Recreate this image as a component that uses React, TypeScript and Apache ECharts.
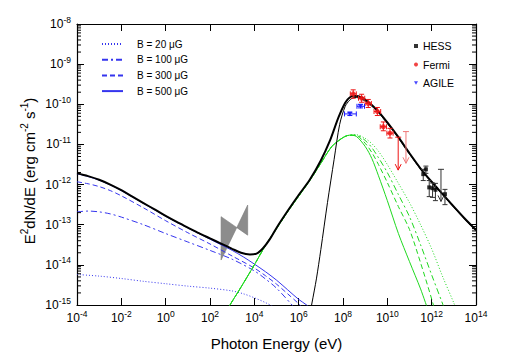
import React, { useEffect, useRef } from "react";
import * as echarts from "echarts";

type P = [number, number];

// ---- model curves as [log10(E / eV), log10(E^2 dN/dE)] ----
const syncB20: P[] = [[-4,-14.24],[-3,-14.28],[-2,-14.34],[-1,-14.41],[0,-14.47],[1,-14.53],[2,-14.58],[3,-14.65],[3.5,-14.72],[4,-14.82],[4.5,-14.94],[5,-15.08],[5.5,-15.25]];
const syncB100: P[] = [[-4,-12.68],[-3.5,-12.66],[-3,-12.68],[-2.5,-12.73],[-2,-12.81],[-1,-13.0],[0,-13.22],[1,-13.43],[2,-13.64],[3,-13.86],[4,-14.15],[4.5,-14.35],[5,-14.58],[5.7,-15.0],[6,-15.2]];
const syncB300: P[] = [[-4,-11.93],[-3.5,-11.98],[-3,-12.05],[-2.5,-12.15],[-2,-12.28],[-1,-12.58],[0,-12.9],[1,-13.2],[2,-13.48],[3,-13.78],[4,-14.08],[4.5,-14.27],[5,-14.48],[5.5,-14.72],[6.06,-15.0],[6.4,-15.2]];
const syncB500: P[] = [[-4,-11.73],[-3.5,-11.8],[-3,-11.89],[-2.5,-12.01],[-2,-12.15],[-1.5,-12.31],[-1,-12.47],[-0.5,-12.63],[0,-12.79],[0.5,-12.94],[1,-13.08],[1.5,-13.22],[2,-13.36],[2.5,-13.5],[3,-13.64],[3.5,-13.8],[4,-13.98],[4.5,-14.17],[5,-14.38],[5.5,-14.62],[6,-14.86],[6.36,-15.0],[6.8,-15.2]];

const icRise: P[] = [[2.6,-15.3],[2.9,-15.0],[3.35,-14.6],[4,-14.0],[4.5,-13.52],[5,-13.1],[5.5,-12.68],[6,-12.29],[6.5,-11.9],[7,-11.47],[7.5,-11.05],[8,-10.83],[8.3,-10.77]];
const icFallB20: P[] = [[8.6,-10.76],[9,-10.85],[9.3,-10.98],[9.6,-11.17],[10,-11.5],[10.5,-11.97],[11,-12.45],[11.5,-13.0],[12,-13.6],[12.5,-14.3],[13,-14.95],[13.2,-15.25]];
const icFallB100: P[] = [[8.6,-10.77],[9,-10.9],[9.3,-11.08],[9.6,-11.33],[10,-11.7],[10.5,-12.25],[11,-12.8],[11.5,-13.5],[12,-14.25],[12.5,-14.98],[12.7,-15.3]];
const icFallB300: P[] = [[8.6,-10.78],[9,-10.97],[9.3,-11.2],[9.6,-11.5],[10,-11.95],[10.5,-12.55],[11,-13.12],[11.5,-13.95],[12,-14.85],[12.2,-15.25]];
const icFallB500: P[] = [[8.6,-10.8],[9,-11.05],[9.3,-11.35],[9.6,-11.78],[10,-12.4],[10.5,-13.22],[11,-13.92],[11.5,-14.6],[11.85,-15.15]];

const hadronic: P[] = [[6.45,-15.4],[6.6,-14.95],[6.8,-14.35],[7.0,-13.62],[7.3,-12.45],[7.6,-11.37],[7.85,-10.5],[8.1,-10.05],[8.3,-9.9],[8.5,-9.83],[8.7,-9.84],[9,-9.92],[9.5,-10.15],[10,-10.48],[10.5,-10.84],[11,-11.24],[11.5,-11.62],[12,-11.95],[12.5,-12.26],[13,-12.57],[13.5,-12.87],[14,-13.15]];
const total: P[] = [[-4,-11.72],[-3.5,-11.79],[-3,-11.88],[-2.5,-12.0],[-2,-12.14],[-1.5,-12.3],[-1,-12.46],[-0.5,-12.62],[0,-12.78],[0.5,-12.93],[1,-13.07],[1.5,-13.21],[2,-13.34],[2.5,-13.47],[3,-13.6],[3.4,-13.7],[3.8,-13.74],[4.1,-13.72],[4.4,-13.58],[4.7,-13.36],[5,-13.08],[5.5,-12.66],[6,-12.26],[6.5,-11.88],[7,-11.4],[7.4,-10.92],[7.8,-10.32],[8.1,-9.96],[8.3,-9.83],[8.5,-9.79],[8.7,-9.8],[9,-9.88],[9.5,-10.12],[10,-10.45],[10.5,-10.82],[11,-11.22],[11.5,-11.6],[12,-11.93],[12.5,-12.24],[13,-12.55],[13.5,-12.85],[14,-13.13]];

// ---- X-ray bow tie ----
const bowtieLogE = [2.5, 3.7];
const bowtieSoftLogF = [-12.8, -13.26];
const bowtieHardLogF = [-13.88, -12.51];

// ---- data points ----
const hessLogE = [11.62, 11.74, 11.89, 12.04, 12.17, 12.6];
const hessLogF = [-11.74, -11.62, -12.07, -12.09, -12.13, -12.24];
const hessLogFLo = [-11.9, -11.72, -12.3, -12.32, -12.4, -12.5];
const hessLogFHi = [-11.62, -11.54, -11.9, -11.96, -11.97, -12.12];
const hessUlLogE = [12.42];
const hessUlTop = [-11.62];
const hessUlBottom = [-12.42];

const fermiLogE = [8.46, 8.84, 9.14, 9.55, 9.82, 10.12];
const fermiLogF = [-9.74, -9.85, -9.98, -10.18, -10.56, -10.72];
const fermiLogELo = [8.33, 8.7, 9.0, 9.4, 9.68, 9.98];
const fermiLogEHi = [8.6, 8.98, 9.28, 9.7, 9.96, 10.26];
const fermiLogFLo = [-9.85, -9.95, -10.08, -10.28, -10.66, -10.84];
const fermiLogFHi = [-9.64, -9.75, -9.88, -10.08, -10.44, -10.6];
const fermiUlLogE = [10.49, 10.84];
const fermiUlTop = [-10.82, -10.68];
const fermiUlBottom = [-11.64, -11.47];

const agileLogE = [8.31, 8.79];
const agileLogF = [-10.24, -10.05];
const agileLogELo = [8.07, 8.63];
const agileLogEHi = [8.6, 8.97];
const agileLogFLo = [-10.28, -10.09];
const agileLogFHi = [-10.2, -10.01];

const bLabels = ["B = 20 μG", "B = 100 μG", "B = 300 μG", "B = 500 μG"];
const yTitle = "{b|E}{s|2}{b|dN/dE (erg cm}{s|-2}{b| s}{s|-1}{b|)}";

const FONT = "Liberation Sans, Arial, Helvetica, sans-serif";
const BLUE = "#3535ee";
const GREEN = "#1fd81f";
const RED = "#ee1515";
const PINK = "#f07878";

const p10 = (v: number) => Math.pow(10, v);
const toXY = (pts: P[]) => pts.map(([e, f]) => [p10(e), p10(f)]);

const supLabel = (v: number) => `{b|10}{s|${Math.round(Math.log10(v))}}`;

function lineSeries(name: string, pts: P[], color: string, type: any, width: number, z = 2) {
  return {
    name,
    type: "line",
    data: toXY(pts),
    symbol: "none",
    smooth: 0.3,
    clip: true,
    z,
    lineStyle: { color, width, type },
    itemStyle: { color },
    emphasis: { disabled: true },
  };
}

const ln = (x1: number, y1: number, x2: number, y2: number, stroke: string) => ({
  type: "line",
  shape: { x1, y1, x2, y2 },
  style: { stroke, lineWidth: 1 },
});

function errorBars(color: string, cap: number) {
  return (_p: any, api: any) => {
    const x = api.value(0), y = api.value(1);
    const c = api.coord([x, y]);
    const a = api.coord([api.value(2), y]);
    const b = api.coord([api.value(3), y]);
    const lo = api.coord([x, api.value(4)]);
    const hi = api.coord([x, api.value(5)]);
    const ch: any[] = [
      ln(c[0], lo[1], c[0], hi[1], color),
      ln(c[0] - cap, lo[1], c[0] + cap, lo[1], color),
      ln(c[0] - cap, hi[1], c[0] + cap, hi[1], color),
    ];
    if (Math.abs(b[0] - a[0]) > 1) {
      ch.push(ln(a[0], c[1], b[0], c[1], color));
      ch.push(ln(a[0], c[1] - cap, a[0], c[1] + cap, color));
      ch.push(ln(b[0], c[1] - cap, b[0], c[1] + cap, color));
    }
    return { type: "group", children: ch };
  };
}

function upperLimits(colors: string[]) {
  return (p: any, api: any) => {
    const color = colors[p.dataIndex % colors.length];
    const x = api.value(0);
    const t = api.coord([x, api.value(1)]);
    const b = api.coord([x, api.value(2)]);
    return {
      type: "group",
      children: [
        ln(t[0], t[1], b[0], b[1], color),
        ln(t[0] - 3, t[1], t[0] + 3, t[1], color),
        { type: "polyline", shape: { points: [[b[0] - 3, b[1] - 6], [b[0], b[1]], [b[0] + 3, b[1] - 6]] }, style: { stroke: color, lineWidth: 1, fill: null } },
      ],
    };
  };
}

const minorTicks: number[] = [];
for (let e = -15; e < -8; e++) for (let m = 2; m <= 9; m++) minorTicks.push(m * Math.pow(10, e));

export default function App() {
  const ref = useRef<HTMLDivElement>(null);
  useEffect(() => {
    if (!ref.current) return;
    const chart = echarts.init(ref.current, undefined, { renderer: "svg" });
    const richTick = {
      b: { fontSize: 12, fontFamily: FONT, color: "#000", lineHeight: 18 },
      s: { fontSize: 8.5, fontFamily: FONT, color: "#000", lineHeight: 9, verticalAlign: "top" },
    };
    const axisCommon = {
      type: "log",
      logBase: 10,
      axisLine: { show: true, onZero: false, lineStyle: { color: "#000", width: 1.2 } },
      splitLine: { show: false },
      minorTick: { show: false },
    };
    const option: any = {
      animation: false,
      grid: { left: 77, right: 36, top: 24, bottom: 54, containLabel: false },
      graphic: [
        {
          type: "text",
          x: 29,
          y: 171,
          rotation: Math.PI / 2,
          silent: true,
          style: {
            text: yTitle,
            align: "center",
            verticalAlign: "middle",
            rich: {
              b: { fontSize: 15, fontFamily: FONT, fill: "#000", lineHeight: 20 },
              s: { fontSize: 10, fontFamily: FONT, fill: "#000", lineHeight: 10, verticalAlign: "top" },
            },
          },
        },
      ],
      xAxis: [
        {
          ...axisCommon,
          min: 1e-4,
          max: 1e14,
          interval: 2,
          position: "bottom",
          axisTick: { inside: true, length: 7, lineStyle: { color: "#000" } },
          axisLabel: { formatter: supLabel, rich: richTick, margin: 4, showMinLabel: true, showMaxLabel: true, hideOverlap: false },
          name: "Photon Energy (eV)",
          nameLocation: "middle",
          nameGap: 31,
          nameTextStyle: { fontSize: 15, fontFamily: FONT, color: "#000" },
        },
        {
          ...axisCommon,
          min: 1e-4,
          max: 1e14,
          interval: 2,
          position: "top",
          axisTick: { inside: true, length: 7, lineStyle: { color: "#000" } },
          axisLabel: { show: false },
        },
      ],
      yAxis: [
        {
          ...axisCommon,
          min: 1e-15,
          max: 1e-8,
          interval: 1,
          position: "left",
          axisTick: { inside: true, length: 7, lineStyle: { color: "#000" } },
          axisLabel: { formatter: supLabel, rich: richTick, margin: 6, showMinLabel: true, showMaxLabel: true },
        },
        {
          ...axisCommon,
          min: 1e-15,
          max: 1e-8,
          interval: 1,
          position: "right",
          axisTick: { inside: true, length: 7, lineStyle: { color: "#000" } },
          axisLabel: { show: false },
        },
      ],
      legend: [
        {
          data: bLabels,
          orient: "vertical",
          left: 101,
          top: 38,
          padding: 0,
          itemWidth: 21,
          itemHeight: 12,
          itemGap: 3.7,
          selectedMode: false,
          itemStyle: { opacity: 0 },
          textStyle: { fontSize: 10, fontFamily: FONT, color: "#000", lineHeight: 12, padding: [0, 0, 0, 9] },
        },
        {
          data: ["HESS", "Fermi", "AGILE"],
          orient: "vertical",
          left: 414,
          top: 40,
          padding: 0,
          itemWidth: 4,
          itemHeight: 4,
          itemGap: 6.5,
          selectedMode: false,
          textStyle: { fontSize: 10.5, fontFamily: FONT, color: "#000", lineHeight: 12 },
        },
      ],
      series: [
        {
          name: "minor ticks",
          type: "custom",
          silent: true,
          clip: false,
          z: 10,
          data: minorTicks.map((v) => [1e-4, v]),
          encode: { x: 0, y: 1 },
          renderItem: (_p: any, api: any) => {
            const y = api.coord([1e-4, api.value(1)])[1];
            const L = api.coord([1e-4, 1e-15])[0];
            const R = api.coord([1e14, 1e-15])[0];
            return { type: "group", children: [ln(L, y, L + 4, y, "#000"), ln(R - 4, y, R, y, "#000")] };
          },
        },
        {
          name: "bowtie",
          type: "custom",
          silent: true,
          z: 1,
          data: [[p10(bowtieLogE[0]), p10(bowtieSoftLogF[0]), p10(bowtieLogE[1]), p10(bowtieSoftLogF[1]), p10(bowtieHardLogF[0]), p10(bowtieHardLogF[1])]],
          encode: { x: [0, 2], y: [1, 3, 4, 5] },
          renderItem: (_p: any, api: any) => {
            const e1 = api.value(0), e2 = api.value(2);
            const pts = [
              api.coord([e1, api.value(1)]),
              api.coord([e2, api.value(3)]),
              api.coord([e2, api.value(5)]),
              api.coord([e1, api.value(4)]),
            ];
            return { type: "polygon", shape: { points: pts }, style: { fill: "#8c8c8c", stroke: "#7a7a7a", lineWidth: 0.6 } };
          },
        },
        lineSeries(bLabels[0], syncB20, BLUE, [1, 2], 1),
        lineSeries(bLabels[1], syncB100, BLUE, [6, 3, 2, 3], 1),
        lineSeries(bLabels[2], syncB300, BLUE, [5, 3], 1),
        lineSeries(bLabels[3], syncB500, BLUE, "solid", 1),
        lineSeries("IC 20", [...icRise, ...icFallB20], GREEN, [1, 2], 1),
        lineSeries("IC 100", [...icRise, ...icFallB100], GREEN, [6, 3, 2, 3], 1),
        lineSeries("IC 300", [...icRise, ...icFallB300], GREEN, [5, 3], 1),
        lineSeries("IC 500", [...icRise, ...icFallB500], GREEN, "solid", 1),
        lineSeries("pp", hadronic, "#000", "solid", 1, 3),
        lineSeries("total", total, "#000", "solid", 2, 4),
        {
          name: "HESS err",
          type: "custom",
          z: 5,
          data: hessLogE.map((e, i) => [p10(e), p10(hessLogF[i]), p10(e), p10(e), p10(hessLogFLo[i]), p10(hessLogFHi[i])]),
          encode: { x: 0, y: 1 },
          renderItem: errorBars("#333", 2.5),
        },
        {
          name: "HESS UL",
          type: "custom",
          z: 5,
          data: hessUlLogE.map((e, i) => [p10(e), p10(hessUlTop[i]), p10(hessUlBottom[i])]),
          encode: { x: 0, y: [1, 2] },
          renderItem: upperLimits(["#333"]),
        },
        {
          name: "Fermi err",
          type: "custom",
          z: 5,
          data: fermiLogE.map((e, i) => [p10(e), p10(fermiLogF[i]), p10(fermiLogELo[i]), p10(fermiLogEHi[i]), p10(fermiLogFLo[i]), p10(fermiLogFHi[i])]),
          encode: { x: 0, y: 1 },
          renderItem: errorBars(RED, 2.5),
        },
        {
          name: "Fermi UL",
          type: "custom",
          z: 5,
          data: fermiUlLogE.map((e, i) => [p10(e), p10(fermiUlTop[i]), p10(fermiUlBottom[i])]),
          encode: { x: 0, y: [1, 2] },
          renderItem: upperLimits([RED, PINK]),
        },
        {
          name: "AGILE err",
          type: "custom",
          z: 5,
          data: agileLogE.map((e, i) => [p10(e), p10(agileLogF[i]), p10(agileLogELo[i]), p10(agileLogEHi[i]), p10(agileLogFLo[i]), p10(agileLogFHi[i])]),
          encode: { x: 0, y: 1 },
          renderItem: errorBars("#1a1aff", 2.5),
        },
        {
          name: "HESS",
          type: "scatter",
          z: 6,
          symbol: "rect",
          symbolSize: 4,
          itemStyle: { color: "#000" },
          data: hessLogE.map((e, i) => [p10(e), p10(hessLogF[i])]),
        },
        {
          name: "Fermi",
          type: "scatter",
          z: 6,
          symbol: "circle",
          symbolSize: 5,
          itemStyle: { color: RED },
          data: fermiLogE.map((e, i) => [p10(e), p10(fermiLogF[i])]),
        },
        {
          name: "AGILE",
          type: "scatter",
          z: 6,
          symbol: "path://M0,0 L10,0 L5,9 Z",
          symbolSize: 5,
          itemStyle: { color: "#1a1aff" },
          data: agileLogE.map((e, i) => [p10(e), p10(agileLogF[i])]),
        },
      ],
    };
    chart.setOption(option);
    return () => chart.dispose();
  }, []);
  return <div ref={ref} style={{ position: "absolute", left: 0, top: 0, width: 512, height: 359, background: "#fff" }} />;
}
